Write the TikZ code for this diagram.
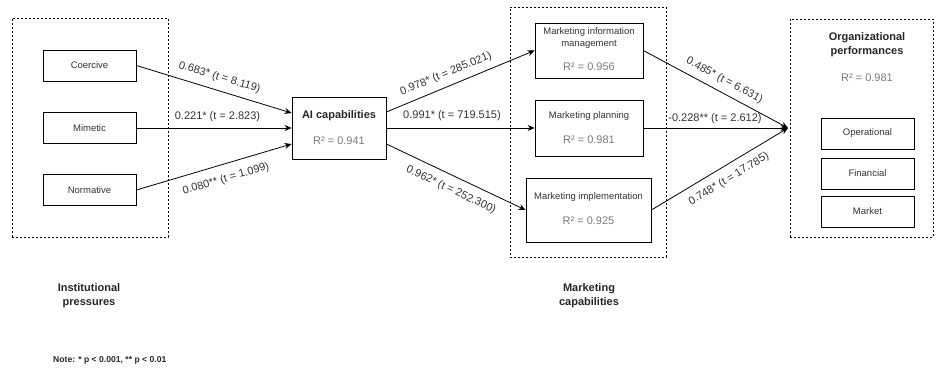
\documentclass[tikz,border=0pt]{standalone}
\usepackage{fontspec}
\setmainfont{Liberation Sans}
\usetikzlibrary{arrows.meta,calc}
\definecolor{txt}{HTML}{333333}
\definecolor{rsq}{HTML}{7A7A7A}
\begin{document}
\begin{tikzpicture}[x=1pt,y=-1pt,
  box/.style={draw, line width=0.8pt, inner sep=0pt, anchor=center},
  grp/.style={draw, line width=0.7pt, dash pattern=on 2pt off 2pt},
  lab/.style={font=\fontsize{9.5}{11.5}\selectfont, text=txt, inner sep=0pt, align=center},
  rsqt/.style={font=\fontsize{11}{13}\selectfont, text=rsq, inner sep=0pt},
  ttl/.style={font=\fontsize{11}{14}\selectfont\bfseries, text=black!85, align=center, inner sep=0pt},
  note/.style={font=\fontsize{8.6}{10}\selectfont\bfseries, text=black!85, inner sep=0pt},
  elab/.style={font=\fontsize{11}{13}\selectfont, text=txt, inner sep=0pt, anchor=center},
  arr/.style={-{Stealth[length=7pt,width=6pt]}, line width=0.8pt}
]
\useasboundingbox (0,0) rectangle (936,367);

% group frames
\node[grp, minimum width=156pt, minimum height=219pt, inner sep=0pt] (gInst) at (90,127.5) {};
\node[grp, minimum width=156pt, minimum height=250pt, inner sep=0pt] (gMkt) at (588,132) {};
\node[grp, minimum width=143pt, minimum height=218pt, inner sep=0pt] (gOrg) at (861.5,128) {};

% institutional pressures
\node[box, minimum width=93pt, minimum height=31pt] (coe) at (89.5,65.5) {};
\node[lab] (coeT) at (coe) {Coercive};
\node[box, minimum width=93pt, minimum height=31pt] (mim) at (89.5,128) {};
\node[lab] (mimT) at (mim) {Mimetic};
\node[box, minimum width=93pt, minimum height=31pt] (nor) at (89.5,190) {};
\node[lab] (norT) at (nor) {Normative};

% AI capabilities
\node[box, minimum width=94pt, minimum height=62pt] (ai) at (339,128) {};
\node[ttl] (aiT) at (339,116) {AI capabilities};
\node[rsqt] (aiR) at (339,141) {R² = 0.941};

% marketing capabilities
\node[box, minimum width=108pt, minimum height=55pt] (mi) at (589,50.5) {};
\node[lab] (miT) at (589,38) {Marketing information\\management};
\node[rsqt] (miR) at (589,67) {R² = 0.956};
\node[box, minimum width=108pt, minimum height=56pt] (mp) at (589,128) {};
\node[lab] (mpT) at (589,116) {Marketing planning};
\node[rsqt] (mpR) at (589,139.5) {R² = 0.981};
\node[box, minimum width=125pt, minimum height=64pt] (mx) at (588.5,210) {};
\node[lab] (mxT) at (588.5,197.5) {Marketing implementation};
\node[rsqt] (mxR) at (588.5,221) {R² = 0.925};

% organizational performances
\node[ttl] (orgT) at (867,45) {Organizational\\performances};
\node[rsqt] (orgR) at (867,78) {R² = 0.981};
\node[box, minimum width=93pt, minimum height=31pt] (op) at (867.5,133.5) {};
\node[lab] (opT) at (op) {Operational};
\node[box, minimum width=93pt, minimum height=31pt] (fi) at (867.5,173.5) {};
\node[lab] (fiT) at (fi) {Financial};
\node[box, minimum width=93pt, minimum height=31pt] (mk) at (867.5,211.5) {};
\node[lab] (mkT) at (mk) {Market};

\coordinate (conv) at (788,128);

% connectors
\draw[arr] (coe.east) -- ([yshift=15pt]ai.west);
\draw[arr] (mim.east) -- (ai.west);
\draw[arr] (nor.east) -- ([yshift=-16pt]ai.west);
\draw[arr] ([yshift=16pt]ai.east) -- (mi.west);
\draw[arr] (ai.east) -- (mp.west);
\draw[arr] ([yshift=-16pt]ai.east) -- (mx.west);
\draw[arr] (mi.east) -- (conv);
\draw[arr] (mp.east) -- (conv);
\draw[arr] (mx.east) -- (conv);

% connector labels
\node[elab, rotate=-16.8] (l1) at (219.5,77.5) {0.683* (t = 8.119)};
\node[elab] (l2) at (217.5,117) {0.221* (t = 2.823)};
\node[elab, rotate=16.4] (l3) at (226,179) {0.080** (t = 1.099)};
\node[elab, rotate=22.3] (l4) at (446,74) {0.978* (t = 285.021)};
\node[elab] (l5) at (452,116) {0.991* (t = 719.515)};
\node[elab, rotate=-25.2] (l6) at (451,190) {0.962* (t = 252.300)};
\node[elab, rotate=-28.3] (l7) at (724.5,80.5) {0.485* (t = 6.631)};
\node[elab] (l8) at (715,119) {-0.228** (t = 2.612)};
\node[elab, rotate=31.2] (l9) at (729,179) {0.748* (t = 17.785)};

% group titles and note
\node[ttl] (instT) at (89,296) {Institutional\\pressures};
\node[ttl] (mktT) at (589,296) {Marketing\\capabilities};
\node[note, anchor=west] (noteT) at (53,360) {Note: * p < 0.001, ** p < 0.01};
\end{tikzpicture}
\end{document}
